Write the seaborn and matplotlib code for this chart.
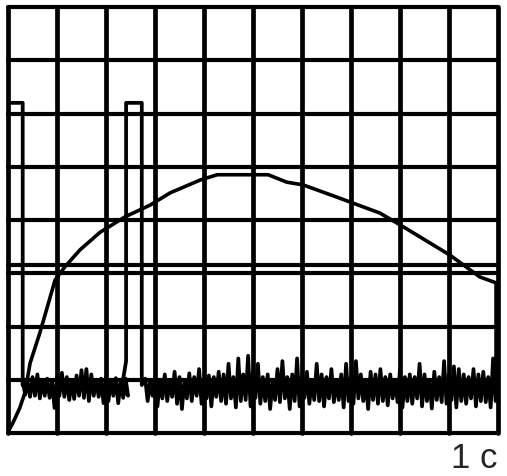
import numpy as np
import pandas as pd
import matplotlib
matplotlib.use("Agg")
import matplotlib.pyplot as plt
import seaborn as sns

# Screen units: 10 divisions across, 8 divisions up
n_xdiv = 10
n_ydiv = 8
marker_level = 3.15

# Smooth (analogue) trace
curve_t = [0.0, 0.10, 0.24, 0.35, 0.45, 0.65, 0.96, 1.16, 1.47, 1.88, 2.39, 2.90,
           3.31, 3.92, 4.27, 5.31, 5.69, 6.02, 6.71, 7.59, 8.00, 9.02, 9.63, 9.96, 9.96]
curve_v = [0.02, 0.19, 0.47, 0.77, 1.31, 1.88, 2.87, 3.12, 3.44, 3.77, 4.06, 4.28,
           4.51, 4.75, 4.85, 4.85, 4.71, 4.66, 4.43, 4.13, 3.91, 3.34, 2.93, 2.82, 0.80]

# Digital trace: high level and pulse windows
pulse_high = 6.2
pulse_windows = [(0.0, 0.30), (2.41, 2.73)]

# Noise envelope on the low level (sampled every 0.1 div)
noise1_t0 = 0.3
noise1_hi = [1.00, 0.95, 1.05, 1.10, 1.00, 1.02, 0.98, 1.05, 1.13, 1.05, 1.00,
             1.08, 1.18, 1.20, 1.10, 1.00, 1.02, 1.05, 1.00, 1.03, 1.00, 1.02]
noise1_lo = [0.72, 0.68, 0.70, 0.65, 0.70, 0.66, 0.47, 0.70, 0.68, 0.62, 0.64,
             0.70, 0.66, 0.60, 0.70, 0.68, 0.56, 0.60, 0.70, 0.56, 0.66, 0.70]

noise2_t0 = 2.8
noise2_hi = [1.02, 0.98, 1.05, 1.00, 1.10, 1.00, 1.15, 1.05, 1.00, 1.12,
             1.05, 1.20, 1.00, 1.08, 1.05, 1.15, 1.10, 1.30, 1.05, 1.40,
             1.10, 1.45, 1.15, 1.30, 1.05, 1.10, 1.00, 1.20, 1.35, 1.05,
             1.10, 1.40, 1.05, 1.15, 1.00, 1.30, 1.10, 1.05, 1.20, 1.00,
             1.10, 1.30, 1.05, 1.35, 1.10, 1.00, 1.15, 1.10, 1.20, 1.05,
             1.10, 1.00, 1.20, 1.05, 1.10, 1.05, 1.30, 1.10, 1.00, 1.15,
             1.05, 1.35, 1.10, 1.25, 1.20, 1.10, 1.05, 1.20, 1.10, 1.15,
             1.05, 1.40, 1.10]
noise2_lo = [0.60, 0.70, 0.50, 0.65, 0.60, 0.68, 0.55, 0.45, 0.65, 0.60,
             0.70, 0.55, 0.65, 0.50, 0.68, 0.60, 0.55, 0.65, 0.48, 0.60,
             0.62, 0.50, 0.66, 0.55, 0.60, 0.45, 0.62, 0.58, 0.65, 0.45,
             0.60, 0.50, 0.66, 0.55, 0.62, 0.60, 0.50, 0.65, 0.58, 0.62,
             0.48, 0.60, 0.55, 0.65, 0.60, 0.45, 0.62, 0.55, 0.60, 0.52,
             0.65, 0.58, 0.48, 0.60, 0.55, 0.65, 0.50, 0.60, 0.46, 0.62,
             0.58, 0.55, 0.62, 0.48, 0.60, 0.55, 0.65, 0.50, 0.60, 0.58,
             0.48, 0.60, 0.55]

time_label = "1 c"


def zigzag(t0, hi, lo, step=0.1):
    """Interleave upper/lower envelope samples into one trace"""
    t, v = [], []
    for i, (h, l) in enumerate(zip(hi, lo)):
        t += [t0 + i * step, t0 + i * step + step / 2]
        v += [h, l]
    return t, v


# build digital trace
dig_t, dig_v = [], []
(p1a, p1b), (p2a, p2b) = pulse_windows
dig_t += [p1a, p1b, p1b]
dig_v += [pulse_high, pulse_high, 0.9]
t, v = zigzag(noise1_t0, noise1_hi, noise1_lo)
dig_t += t
dig_v += v
dig_t += [p2a - 0.08, p2a, p2a, p2b, p2b]
dig_v += [0.9, 1.35, pulse_high, pulse_high, 0.9]
t, v = zigzag(noise2_t0, noise2_hi, noise2_lo)
dig_t += t
dig_v += v

dig = pd.DataFrame({"t": dig_t, "v": dig_v})
curve = pd.DataFrame({"t": curve_t, "v": curve_v})

sns.set_style("white")
W, H = 507, 476
fig = plt.figure(figsize=(W / 100, H / 100), dpi=100)
ax = fig.add_axes([8 / W, 43 / H, 490 / W, 426 / H])
ax.set_xlim(0, n_xdiv)
ax.set_ylim(0, n_ydiv)
ax.set_axis_off()

# graticule
for i in range(n_xdiv + 1):
    ax.axvline(i, color="black", lw=3.4, clip_on=False, zorder=1)
for j in range(n_ydiv + 1):
    ax.axhline(j, color="black", lw=3.0, clip_on=False, zorder=1)
ax.axhline(marker_level, color="black", lw=3.0, clip_on=False, zorder=1)

sns.lineplot(data=dig, x="t", y="v", sort=False, estimator=None, ax=ax,
             color="black", lw=2.7, zorder=3)
sns.lineplot(data=curve, x="t", y="v", sort=False, estimator=None, ax=ax,
             color="black", lw=2.6, zorder=3)
ax.set_axis_off()

fig.text(497 / W, 1 - 468 / H, time_label, ha="right", va="baseline",
         fontsize=25, family=["Liberation Sans", "DejaVu Sans"])

fig.savefig("out.png", dpi=100, facecolor="white")
